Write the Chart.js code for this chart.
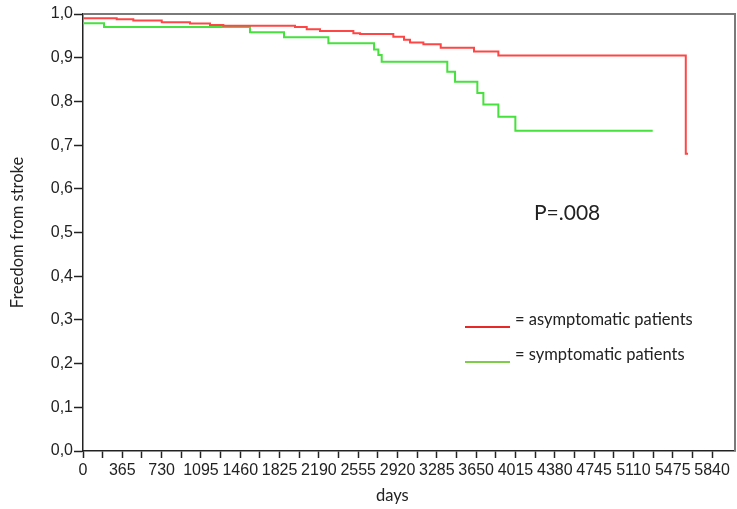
<!DOCTYPE html>
<html>
<head>
<meta charset="utf-8">
<script src="https://cdn.jsdelivr.net/npm/chart.js@4"></script>
<style>
  body { margin: 0; background: #fff; }
  #wrap { position: relative; width: 737px; height: 509px; }
  .note { position: absolute; font-family: Lato, "Open Sans", sans-serif; color: #222; white-space: nowrap; line-height: 1; }
  .key { position: absolute; height: 2px; width: 45px; }
</style>
</head>
<body>
<div id="wrap">
  <canvas id="km"></canvas>
  <div class="note" style="left:534px; top:201px; font-size:21px;">P=.008</div>
  <div class="key" style="left:465px; top:326px; background:#e62828;"></div>
  <div class="note" style="left:515px; top:311px; font-size:16.5px;">= asymptomatic patients</div>
  <div class="key" style="left:465px; top:361px; background:#7fcc4a;"></div>
  <div class="note" style="left:515px; top:346px; font-size:16.5px;">= symptomatic patients</div>
  <div class="note" style="left:376px; top:487px; font-size:16.5px;">days</div>
</div>
<script>
// Kaplan-Meier steps (day of event, survival after it)
const redDays = [0, 313, 467, 731, 993, 1179, 1303, 1968, 2077, 2200, 2510, 2572, 2881, 2980, 3036, 3160, 3321, 3630, 3856, 5596, 5617];
const redSurv = [0.990, 0.988, 0.985, 0.981, 0.978, 0.975, 0.973, 0.970, 0.965, 0.961, 0.956, 0.954, 0.948, 0.941, 0.935, 0.931, 0.923, 0.914, 0.905, 0.680, 0.680];

const greenDays = [0, 195, 1550, 1866, 2278, 2702, 2742, 2773, 3382, 3454, 3661, 3717, 3856, 4014, 5289];
const greenSurv = [0.979, 0.970, 0.958, 0.947, 0.933, 0.919, 0.906, 0.891, 0.868, 0.845, 0.819, 0.793, 0.765, 0.733, 0.733];

// x ticks: labelled every 365 days, small ticks in between
const xTickValues = [0, 182.5, 365, 547.5, 730, 912.5, 1095, 1277.5, 1460, 1642.5, 1825, 2007.5, 2190, 2372.5, 2555, 2737.5, 2920, 3102.5, 3285, 3467.5, 3650, 3832.5, 4015, 4197.5, 4380, 4562.5, 4745, 4927.5, 5110, 5292.5, 5475, 5657.5, 5840];
const xLabelStep = 365;

function toPoints(days, surv) {
  return days.map((d, i) => ({ x: d, y: surv[i] }));
}

// Gray frame on the top and right side of the plot area
const frame = {
  id: 'frame',
  afterDraw(chart) {
    const { ctx, chartArea: a } = chart;
    ctx.save();
    ctx.strokeStyle = '#7a7a7a';
    ctx.lineWidth = 2;
    ctx.beginPath();
    ctx.moveTo(a.left, a.top);
    ctx.lineTo(a.right, a.top);
    ctx.lineTo(a.right, a.bottom);
    ctx.stroke();
    ctx.restore();
  }
};

const tickFont = { family: '"Liberation Sans", Arial, sans-serif', size: 16 };

new Chart(document.getElementById('km'), {
  type: 'line',
  data: {
    datasets: [
      {
        label: 'asymptomatic patients',
        data: toPoints(redDays, redSurv),
        borderColor: 'rgb(255, 70, 70)',
        borderWidth: 2,
        stepped: 'before',
        pointRadius: 0,
        fill: false
      },
      {
        label: 'symptomatic patients',
        data: toPoints(greenDays, greenSurv),
        borderColor: 'rgb(70, 225, 60)',
        borderWidth: 2,
        stepped: 'before',
        pointRadius: 0,
        fill: false
      }
    ]
  },
  options: {
    responsive: true,
    maintainAspectRatio: false,
    animation: false,
    layout: { padding: { top: 14, right: 2, left: 0, bottom: 0 } },
    plugins: {
      legend: { display: false },
      tooltip: { enabled: false }
    },
    scales: {
      x: {
        type: 'linear',
        min: 0,
        max: 6053,
        afterBuildTicks: (scale) => {
          scale.ticks = xTickValues.map(v => ({ value: v }));
        },
        afterFit: (scale) => { scale.height = 58; },
        grid: {
          drawOnChartArea: false,
          drawTicks: true,
          tickLength: 7,
          tickColor: '#222',
          tickWidth: 1.5
        },
        border: { display: true, color: '#222', width: 1.5 },
        ticks: {
          autoSkip: false,
          maxRotation: 0,
          padding: 3,
          color: '#222',
          font: tickFont,
          callback: (v) => (v % xLabelStep === 0 ? String(v) : '')
        }
      },
      y: {
        min: 0,
        max: 1,
        afterFit: (scale) => { scale.width = 83; },
        grid: {
          drawOnChartArea: false,
          drawTicks: true,
          tickLength: 9,
          tickColor: '#222',
          tickWidth: 1.5
        },
        border: { display: true, color: '#222', width: 1.5 },
        ticks: {
          stepSize: 0.1,
          padding: 1,
          color: '#222',
          font: tickFont,
          callback: (v) => v.toFixed(1).replace('.', ',')
        },
        title: {
          display: true,
          text: 'Freedom from stroke',
          color: '#222',
          font: { family: 'Lato, "Open Sans", sans-serif', size: 16.5 },
          padding: { top: 8, bottom: 0 }
        }
      }
    }
  },
  plugins: [frame]
});
</script>
</body>
</html>
